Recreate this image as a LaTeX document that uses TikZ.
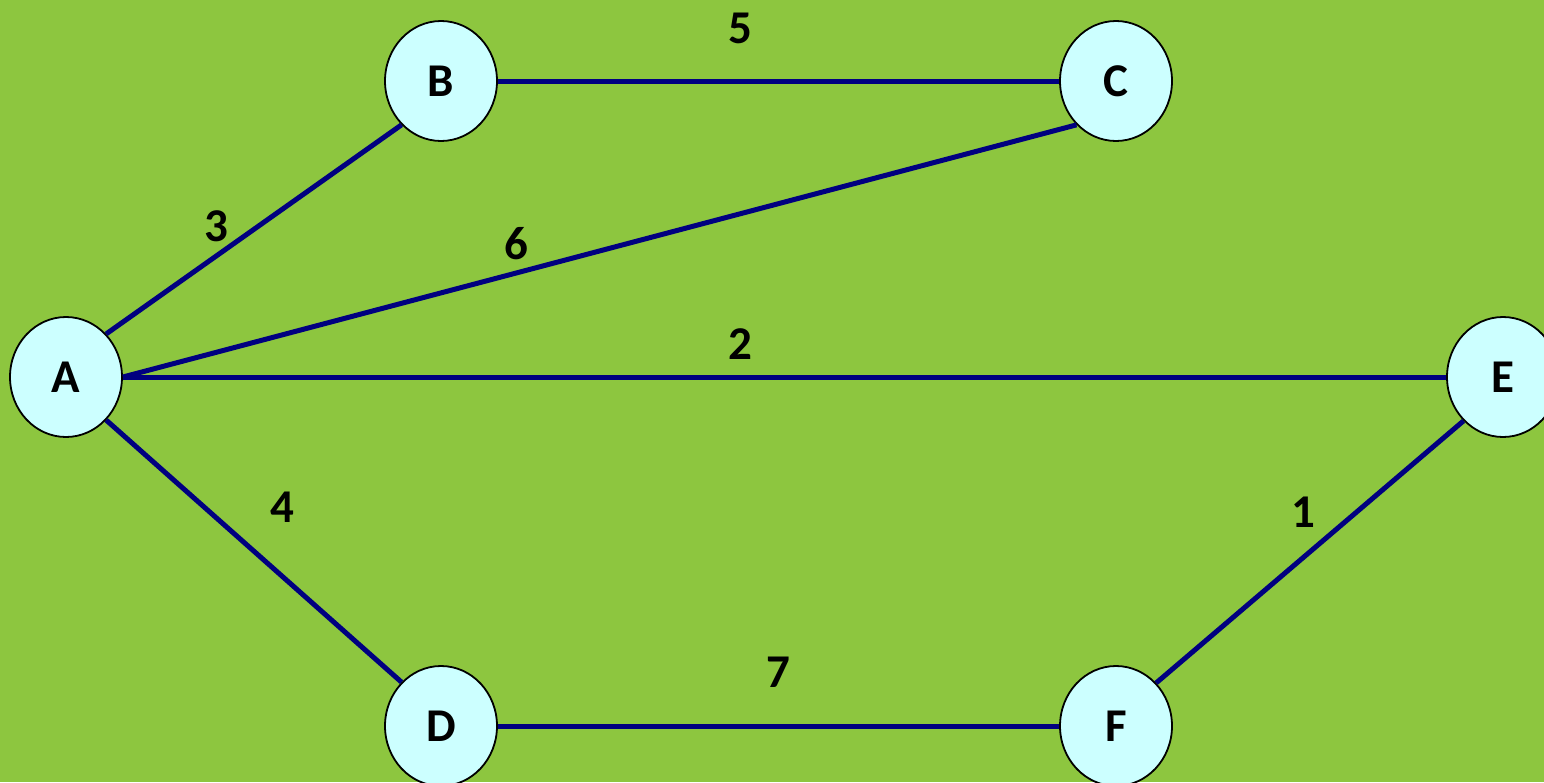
\documentclass[tikz,border=0pt]{standalone}
\usepackage{fontspec}
\setmainfont{Carlito}
\usetikzlibrary{shapes.geometric}
\definecolor{bggreen}{HTML}{8DC63F}
\definecolor{nodefill}{HTML}{CCFFFF}
\definecolor{edgeblue}{HTML}{000080}
\tikzset{
  vertex/.style={ellipse, draw=black, line width=1.8pt, fill=nodefill,
    minimum width=112pt, minimum height=120pt, inner sep=0pt,
    font=\fontsize{47}{47}\selectfont\bfseries},
  weight/.style={inner sep=0pt, font=\fontsize{47}{47}\selectfont\bfseries},
  edge/.style={draw=edgeblue, line width=5pt}
}
\begin{document}
\begin{tikzpicture}[x=1pt,y=-1pt]
\useasboundingbox (0,0) rectangle (1544,782);
\clip (0,0) rectangle (1544,782);
\fill[bggreen] (0,0) rectangle (1544,782);
% vertices
\node[vertex] (A) at (66,377) {A};
\node[vertex] (B) at (441,81) {B};
\node[vertex] (C) at (1116,81) {C};
\node[vertex] (D) at (441,726) {D};
\node[vertex] (E) at (1503,377) {E};
\node[vertex] (F) at (1116,726) {F};
% edges
\draw[edge] (A.47) -- (B.228);
\draw[edge] (B.0) -- (C.180);
\draw[edge] (A.0) -- (C.228);
\draw[edge] (A.0) -- (E.180);
\draw[edge] (A.313) -- (D.132);
\draw[edge] (D.0) -- (F.180);
\draw[edge] (F.47) -- (E.228);
% weights
\node[weight] (w5) at (740,28) {5};
\node[weight] (w3) at (216,226) {3};
\node[weight] (w6) at (516,244) {6};
\node[weight] (w2) at (740,344) {2};
\node[weight] (w4) at (282,507) {4};
\node[weight] (w1) at (1303,512) {1};
\node[weight] (w7) at (778,672) {7};
\end{tikzpicture}
\end{document}
